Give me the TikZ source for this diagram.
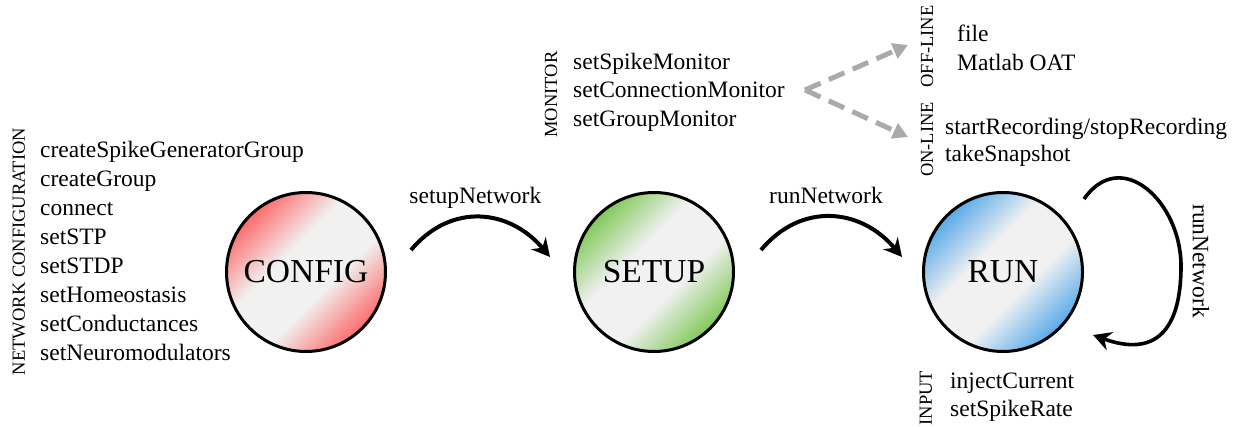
\documentclass[tikz,border=0pt]{standalone}
\usepackage{fontspec}
\setmainfont{Liberation Serif}
\usetikzlibrary{arrows.meta,calc}

% colours of the three states and of the monitor fork
\definecolor{midgray}{RGB}{241,241,241}
\definecolor{cfgred}{RGB}{252,108,108}
\definecolor{setgreen}{RGB}{130,200,90}
\definecolor{runblue}{RGB}{88,170,232}
\definecolor{forkgray}{RGB}{170,170,170}

% diagonal two-sided fades: colour at two opposite rims, light grey across the middle
\pgfdeclarehorizontalshading{cfgshade}{100bp}{color(0bp)=(cfgred); color(25bp)=(cfgred); color(42bp)=(midgray); color(58bp)=(midgray); color(75bp)=(cfgred); color(100bp)=(cfgred)}
\pgfdeclarehorizontalshading{setshade}{100bp}{color(0bp)=(setgreen); color(25bp)=(setgreen); color(42bp)=(midgray); color(58bp)=(midgray); color(75bp)=(setgreen); color(100bp)=(setgreen)}
\pgfdeclarehorizontalshading{runshade}{100bp}{color(0bp)=(runblue); color(25bp)=(runblue); color(42bp)=(midgray); color(58bp)=(midgray); color(75bp)=(runblue); color(100bp)=(runblue)}

\begin{document}
\begin{tikzpicture}[x=1pt,y=1pt,
  state/.style={circle, draw=black, line width=3pt, minimum size=159pt, inner sep=0pt,
    font=\fontsize{33.5}{40}\selectfont, shade, shading angle=-45},
  call/.style={inner sep=0pt, anchor=base west, font=\fontsize{23.5}{28}\selectfont},
  edgelabel/.style={inner sep=0pt, anchor=base, font=\fontsize{23.5}{28}\selectfont},
  group/.style={inner sep=0pt, rotate=90, font=\fontsize{18.5}{22}\selectfont},
  flow/.style={line width=4pt, -{Stealth[length=18pt,width=19pt,inset=6pt]}},
  fork/.style={draw=forkgray, line width=5pt, dash pattern=on 17pt off 9pt,
    -{Triangle[length=15pt,width=16pt,fill=forkgray]}}]
\useasboundingbox (0,0) rectangle (1239,427);

% the three states
\node[state, shading=cfgshade] (config) at (306,155) {CONFIG};
\node[state, shading=setshade] (setup)  at (654,155) {SETUP};
\node[state, shading=runshade] (run)    at (1003,155) {RUN};

% network configuration calls
\node[group] (netcfg) at (19,175.5) {NETWORK CONFIGURATION};
\foreach \t [count=\i] in {createSpikeGeneratorGroup, createGroup, connect, setSTP,
    setSTDP, setHomeostasis, setConductances, setNeuromodulators}
  \node[call] (cfg\i) at (40,{298.76-29.06*\i}) {\t};

% monitors
\node[group] (monitor) at (551,332.5) {MONITOR};
\node[call] (mon1) at (573,357.5) {setSpikeMonitor};
\node[call] (mon2) at (573,329.2) {setConnectionMonitor};
\node[call] (mon3) at (573,300.9) {setGroupMonitor};

% off-line and on-line outputs
\node[group] (offline) at (927,380.5) {OFF-LINE};
\node[call] (off1) at (957,385.7) {file};
\node[call] (off2) at (957,356.0) {Matlab OAT};
\node[group] (online) at (927,287.5) {ON-LINE};
\node[call] (on1) at (945,292.7) {startRecording/stopRecording};
\node[call] (on2) at (945,265.3) {takeSnapshot};

% inputs
\node[group] (input) at (926,29) {INPUT};
\node[call] (in1) at (950,38.7) {injectCurrent};
\node[call] (in2) at (950,10.3) {setSpikeRate};

% fork from the monitors
\coordinate (split) at (805,337);
\coordinate (offtip) at (908,382);
\coordinate (ontip) at (908,290);
\draw[fork] (split) -- (offtip);
\draw[fork] (split) -- (ontip);

% transitions between states
\coordinate (a1) at ($(config)+(105,22)$);
\coordinate (a2) at ($(setup)+(-104,15)$);
\coordinate (b1) at ($(setup)+(107,22)$);
\coordinate (b2) at ($(run)+(-101,15)$);
\draw[flow] (a1) to[out=50,in=130,looseness=1.15] (a2);
\draw[flow] (b1) to[out=50,in=130,looseness=1.15] (b2);
\node[edgelabel] (lsetup) at (475.4,223.7) {setupNetwork};
\node[edgelabel] (lrun)   at (826,223.7) {runNetwork};

% repeated runs
\coordinate (l1) at ($(run)+(81,73)$);
\coordinate (l2) at ($(run)+(178,6)$);
\coordinate (l3) at ($(run)+(90,-63)$);
\draw[flow, line width=3.6pt] (l1) to[out=55,in=90,looseness=1.4] (l2)
  to[out=-90,in=-20,looseness=1.5] (l3);
\node[inner sep=0pt, rotate=-90, font=\fontsize{23.5}{28}\selectfont] (lloop) at (1201,166) {runNetwork};
\end{tikzpicture}
\end{document}
